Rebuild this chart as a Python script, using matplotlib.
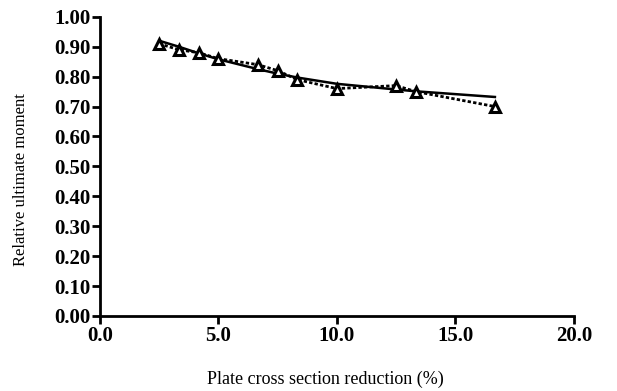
import numpy as np
import matplotlib
matplotlib.use("Agg")
import matplotlib.pyplot as plt
from matplotlib.ticker import FormatStrFormatter

reduction = [2.5, 3.33, 4.17, 5.0, 6.67, 7.5, 8.33, 10.0, 12.5, 13.33, 16.67]
moment = [0.91, 0.89, 0.88, 0.86, 0.84, 0.82, 0.79, 0.76, 0.77, 0.75, 0.70]
trend = [0.92, 0.90, 0.878, 0.858, 0.825, 0.81, 0.797, 0.776, 0.757, 0.751, 0.732]

plt.rcParams['font.family'] = ['Liberation Serif', 'DejaVu Serif']

fig = plt.figure(figsize=(6.17, 3.91), dpi=100)
ax = fig.add_axes([0.162, 0.192, 0.768, 0.765])

ax.plot(reduction, trend, color='black', lw=1.8, zorder=2)
ax.plot(reduction, moment, color='black', lw=2.0, ls=(0, (1.2, 0.8)), zorder=3,
        marker='^', markersize=7.5, markerfacecolor='white', markeredgecolor='black',
        markeredgewidth=2.2)

ax.set_xlim(0, 20)
ax.set_ylim(0, 1.0)
ax.set_xticks(np.arange(0, 20.1, 5))
ax.set_yticks(np.arange(0, 1.01, 0.1))
ax.xaxis.set_major_formatter(FormatStrFormatter('%.1f'))
ax.yaxis.set_major_formatter(FormatStrFormatter('%.2f'))

for s in ['top', 'right']:
    ax.spines[s].set_visible(False)
for s in ['left', 'bottom']:
    ax.spines[s].set_linewidth(2)
ax.tick_params(width=2, length=6, labelsize=15, direction='out', pad=1)
for lab in ax.get_xticklabels() + ax.get_yticklabels():
    lab.set_fontweight('bold')

ax.set_xlabel("Plate cross section reduction (%)", fontsize=13)
ax.set_ylabel("Relative ultimate moment", fontsize=12)
ax.xaxis.set_label_coords(0.475, -0.184)
ax.yaxis.set_label_coords(-0.15, 0.455)

fig.savefig("out.png", dpi=100)
